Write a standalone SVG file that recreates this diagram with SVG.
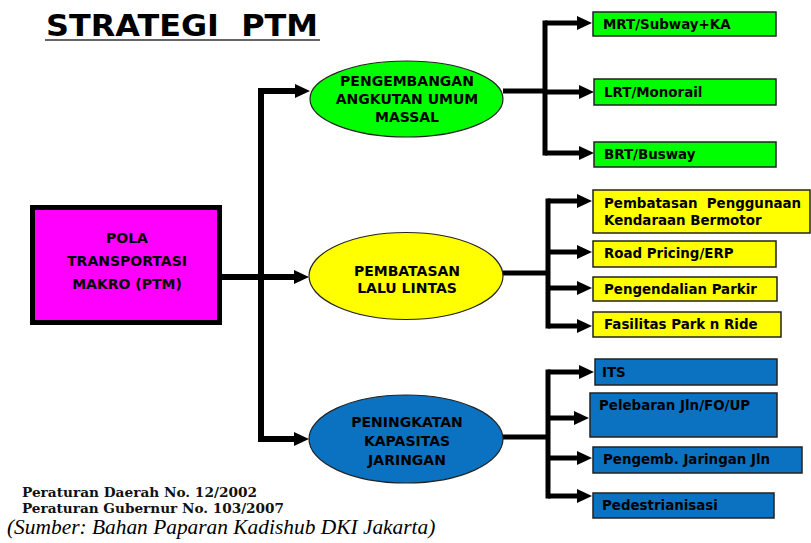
<svg xmlns="http://www.w3.org/2000/svg" width="811" height="543" viewBox="0 0 811 543">
<style>
.lbl{font-family:"DejaVu Sans",Verdana,sans-serif;font-weight:bold;fill:#000}
.el{font-size:14px;text-anchor:middle}
.bx{font-size:13.4px}
.ell{stroke:#222;stroke-width:1.2}
.box{stroke:#222;stroke-width:1.5}
.g{fill:#00FF00}
.y{fill:#FFFF00}
.b{fill:#0B72C1}
.con path{fill:none;stroke:#000;stroke-linejoin:miter}
.t{stroke-width:6}
.r{stroke-width:5}
.ft{font-family:"DejaVu Serif",serif;font-size:12.5px;font-weight:bold;fill:#111}
</style>
<defs>
<marker id="ah" markerUnits="userSpaceOnUse" markerWidth="15" markerHeight="14" refX="0" refY="7" orient="auto" viewBox="0 0 15 14">
<path d="M0,0 L15,7 L0,14 z" fill="#000"/>
</marker>
</defs>
<rect width="811" height="543" fill="#fff"/>
<g id="title">
<text x="46" y="36" font-family="DejaVu Sans,Verdana,sans-serif" font-weight="bold" font-size="30" textLength="272" lengthAdjust="spacingAndGlyphs" xml:space="preserve">STRATEGI  PTM</text>
<line x1="45" y1="40" x2="320" y2="40" stroke="#666" stroke-width="2"/>
</g>
<g class="con" id="connectors">
<path class="t" d="M222,277 H294" marker-end="url(#ah)"/>
<path class="t" d="M261,91 V439" stroke-linecap="square"/>
<path class="t" d="M261,91 H295" marker-end="url(#ah)"/>
<path class="t" d="M261,439 H294" marker-end="url(#ah)"/>
<path class="r" d="M503,91 H545"/>
<path class="r" d="M545,23 V153" stroke-linecap="square"/>
<path class="r" d="M545,23 H577" marker-end="url(#ah)"/>
<path class="r" d="M545,92 H579" marker-end="url(#ah)"/>
<path class="r" d="M545,153 H579" marker-end="url(#ah)"/>
<path class="r" d="M503,273 H548"/>
<path class="r" d="M548,201 V326" stroke-linecap="square"/>
<path class="r" d="M548,201 H577" marker-end="url(#ah)"/>
<path class="r" d="M548,252 H577" marker-end="url(#ah)"/>
<path class="r" d="M548,288 H577" marker-end="url(#ah)"/>
<path class="r" d="M548,326 H577" marker-end="url(#ah)"/>
<path class="r" d="M503,437 H548"/>
<path class="r" d="M548,372 V496" stroke-linecap="square"/>
<path class="r" d="M548,372 H579" marker-end="url(#ah)"/>
<path class="r" d="M548,418 H574" marker-end="url(#ah)"/>
<path class="r" d="M548,458 H577" marker-end="url(#ah)"/>
<path class="r" d="M548,496 H577" marker-end="url(#ah)"/>
</g>
<g id="ptm">
<rect x="32.5" y="207.5" width="187" height="115" fill="#FF00FF" stroke="#000" stroke-width="5"/>
<text class="lbl el" x="127" y="243">POLA</text>
<text class="lbl el" x="127" y="266">TRANSPORTASI</text>
<text class="lbl el" x="127" y="289">MAKRO (PTM)</text>
</g>
<g id="angkutan">
<ellipse class="ell g" cx="406.5" cy="99" rx="96.5" ry="38"/>
<text class="lbl el" x="407" y="86">PENGEMBANGAN</text>
<text class="lbl el" x="407" y="104">ANGKUTAN UMUM</text>
<text class="lbl el" x="407" y="122">MASSAL</text>
</g>
<g id="lalulintas">
<ellipse class="ell y" cx="406" cy="276" rx="97" ry="43.5"/>
<text class="lbl el" x="407" y="276">PEMBATASAN</text>
<text class="lbl el" x="407" y="293">LALU LINTAS</text>
</g>
<g id="kapasitas">
<ellipse class="ell b" cx="406" cy="439" rx="97" ry="44"/>
<text class="lbl el" x="407" y="427">PENINGKATAN</text>
<text class="lbl el" x="407" y="446">KAPASITAS</text>
<text class="lbl el" x="407" y="465">JARINGAN</text>
</g>
<g id="mrt"><rect class="box g" x="593" y="12" width="183" height="24"/><text class="lbl bx" x="603" y="29">MRT/Subway+KA</text></g>
<g id="lrt"><rect class="box g" x="594" y="79" width="182" height="26"/><text class="lbl bx" x="604" y="97">LRT/Monorail</text></g>
<g id="brt"><rect class="box g" x="594" y="142" width="182" height="25"/><text class="lbl bx" x="604" y="159">BRT/Busway</text></g>
<g id="pembatasan"><rect class="box y" x="593" y="190" width="217" height="43"/><text class="lbl bx" x="604" y="208" xml:space="preserve">Pembatasan  Penggunaan</text><text class="lbl bx" x="604" y="225">Kendaraan Bermotor</text></g>
<g id="erp"><rect class="box y" x="593" y="241" width="183" height="26"/><text class="lbl bx" x="604" y="258">Road Pricing/ERP</text></g>
<g id="parkir"><rect class="box y" x="593" y="277" width="184" height="24"/><text class="lbl bx" x="604" y="294">Pengendalian Parkir</text></g>
<g id="parkride"><rect class="box y" x="593" y="312" width="188" height="25"/><text class="lbl bx" x="604" y="329">Fasilitas Park n Ride</text></g>
<g id="its"><rect class="box b" x="595" y="359" width="182" height="26"/><text class="lbl bx" x="602" y="377">ITS</text></g>
<g id="pelebaran"><rect class="box b" x="590" y="393" width="187" height="44"/><text class="lbl bx" x="599" y="410">Pelebaran Jln/FO/UP</text></g>
<g id="jaringan"><rect class="box b" x="593" y="447" width="209" height="26"/><text class="lbl bx" x="603" y="464">Pengemb. Jaringan Jln</text></g>
<g id="pedestrian"><rect class="box b" x="593" y="493" width="181" height="25"/><text class="lbl bx" x="602" y="510">Pedestrianisasi</text></g>
<g id="footer">
<text class="ft" x="22" y="497" textLength="235" lengthAdjust="spacingAndGlyphs">Peraturan Daerah No. 12/2002</text>
<text class="ft" x="22" y="513" textLength="262" lengthAdjust="spacingAndGlyphs">Peraturan Gubernur No. 103/2007</text>
<text x="7" y="534" font-family="Liberation Serif,Times New Roman,serif" font-style="italic" font-size="21.4">(Sumber: Bahan Paparan Kadishub DKI Jakarta)</text>
</g>
</svg>
